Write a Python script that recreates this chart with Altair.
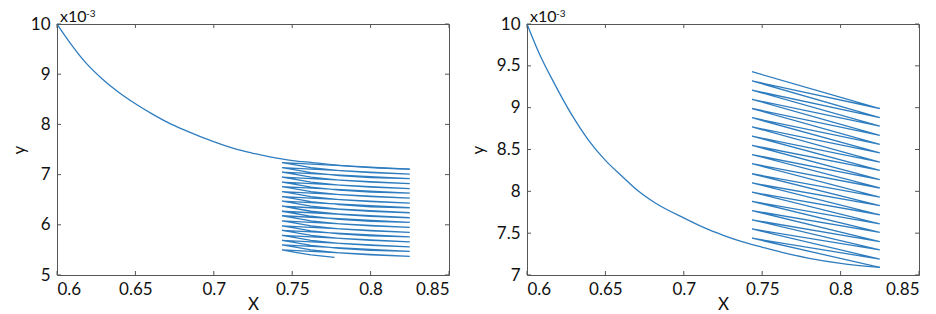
import altair as alt
import pandas as pd

FONT = "Lato"
BLUE = "#2f7dbf"
FRAME = "#555555"
W, H = 392, 251

x_ticks = [0.6, 0.65, 0.7, 0.75, 0.8, 0.85]

# ---------- left panel (y in units of 1e-3) ----------
left_curve_x = [0.6, 0.6096, 0.618, 0.6287, 0.6393, 0.65, 0.6606, 0.6712, 0.6818,
                0.7003, 0.7137, 0.7244, 0.735, 0.7503, 0.7626, 0.775, 0.80, 0.825]
left_curve_y = [10.0, 9.57, 9.24, 8.91, 8.64, 8.41, 8.21, 8.03, 7.88,
                7.65, 7.51, 7.43, 7.36, 7.28, 7.24, 7.20, 7.14, 7.11]
left_x_lo, left_x_hi = 0.7435, 0.825
left_strand_lo = [7.11, 7.01, 6.92, 6.82, 6.72, 6.63, 6.53, 6.43, 6.34, 6.24,
                  6.14, 6.05, 5.95, 5.85, 5.76, 5.66, 5.56, 5.47, 5.37]
left_strand_hi = [7.24, 7.14, 7.05, 6.95, 6.85, 6.76, 6.66, 6.56, 6.47, 6.37,
                  6.27, 6.18, 6.08, 5.98, 5.89, 5.79, 5.69, 5.60, 5.50]
kink_x = [0.752, 0.762, 0.78, 0.80]
kink_drop = [0.045, 0.10, 0.16, 0.20]
left_last_x = [0.752, 0.762, 0.777]
left_last_y = [5.45, 5.40, 5.35]
left_y_ticks = [5, 6, 7, 8, 9, 10]

# ---------- right panel ----------
right_curve_x = [0.6, 0.6075, 0.618, 0.6287, 0.6393, 0.65, 0.6606, 0.6712, 0.6818,
                 0.7003, 0.7137, 0.7244, 0.735, 0.7503, 0.7626, 0.78, 0.80, 0.825]
right_curve_y = [10.0, 9.66, 9.27, 8.91, 8.61, 8.37, 8.18, 8.00, 7.86,
                 7.68, 7.56, 7.48, 7.41, 7.33, 7.27, 7.20, 7.14, 7.09]
right_x_lo, right_x_hi = 0.7435, 0.825
right_strand_lo = [7.09, 7.19, 7.30, 7.40, 7.51, 7.61, 7.72, 7.83, 7.93, 8.04,
                   8.14, 8.25, 8.35, 8.46, 8.56, 8.67, 8.78, 8.88, 8.99]
right_strand_hi = [7.44, 7.55, 7.66, 7.77, 7.88, 7.99, 8.10, 8.21, 8.33, 8.44,
                   8.55, 8.66, 8.77, 8.88, 8.99, 9.10, 9.21, 9.32, 9.43]
right_y_ticks = [7, 7.5, 8, 8.5, 9, 9.5, 10]


def left_strands():
    # starts where the smooth curve ends
    xs, ys = [left_curve_x[-1]], [left_curve_y[-1]]
    n = len(left_strand_hi)
    for k in range(n):
        xs.append(left_x_lo)
        ys.append(left_strand_hi[k])
        if k < n - 1:
            for kx, kd in zip(kink_x, kink_drop):
                xs.append(kx)
                ys.append(left_strand_hi[k] - kd)
            xs.append(left_x_hi)
            ys.append(left_strand_lo[k + 1])
        else:
            xs += left_last_x
            ys += left_last_y
    return pd.DataFrame({"x": xs, "y": ys, "i": range(len(xs))})


def right_strands():
    xs, ys = [right_curve_x[-1]], [right_curve_y[-1]]
    n = len(right_strand_hi)
    for k in range(n):
        xs.append(right_x_lo)
        ys.append(right_strand_hi[k])
        if k < n - 1:
            xs.append(right_x_hi)
            ys.append(right_strand_lo[k + 1])
    return pd.DataFrame({"x": xs, "y": ys, "i": range(len(xs))})


def panel(curve_x, curve_y, strands, y_ticks, y_dom, ytitle_pad):
    xs = alt.Scale(domain=[0.6, 0.85], nice=False, zero=False)
    ys = alt.Scale(domain=y_dom, nice=False, zero=False)
    xax = alt.Axis(values=x_ticks, format="~r", title="X")
    yax = alt.Axis(values=y_ticks, format="~r", title="y", titlePadding=ytitle_pad)
    curve_df = pd.DataFrame({"x": curve_x, "y": curve_y, "i": range(len(curve_x))})
    curve = alt.Chart(curve_df).mark_line(
        color=BLUE, strokeWidth=1.3, interpolate="monotone"
    ).encode(
        x=alt.X("x:Q", scale=xs, axis=xax, title="X"),
        y=alt.Y("y:Q", scale=ys, axis=yax, title="y"),
        order="i:Q",
    )
    zig = alt.Chart(strands).mark_line(color=BLUE, strokeWidth=1.3).encode(
        x=alt.X("x:Q", scale=xs, axis=xax, title="X"),
        y=alt.Y("y:Q", scale=ys, axis=yax, title="y"),
        order="i:Q",
    )
    xt = pd.DataFrame({"v": x_ticks})
    yt = pd.DataFrame({"v": y_ticks})
    top = alt.Chart(xt).mark_rule(color=FRAME).encode(
        x=alt.X("v:Q", scale=xs, axis=xax, title="X"), y=alt.value(0), y2=alt.value(4))
    bot = alt.Chart(xt).mark_rule(color=FRAME).encode(
        x=alt.X("v:Q", scale=xs, axis=xax, title="X"), y=alt.value(H), y2=alt.value(H - 4))
    lft = alt.Chart(yt).mark_rule(color=FRAME).encode(
        y=alt.Y("v:Q", scale=ys, axis=yax, title="y"), x=alt.value(0), x2=alt.value(4))
    rgt = alt.Chart(yt).mark_rule(color=FRAME).encode(
        y=alt.Y("v:Q", scale=ys, axis=yax, title="y"), x=alt.value(W), x2=alt.value(W - 4))
    t1 = alt.Chart(pd.DataFrame({"t": ["x10"]})).mark_text(
        align="left", baseline="alphabetic", font=FONT, fontSize=16, color="#111"
    ).encode(text="t:N", x=alt.value(3), y=alt.value(-2))
    t2 = alt.Chart(pd.DataFrame({"t": ["-3"]})).mark_text(
        align="left", baseline="alphabetic", font=FONT, fontSize=10, color="#111"
    ).encode(text="t:N", x=alt.value(29), y=alt.value(-7))
    return alt.layer(curve, zig, top, bot, lft, rgt, t1, t2).properties(width=W, height=H)


chart = alt.hconcat(
    panel(left_curve_x, left_curve_y, left_strands(), left_y_ticks, [5, 10], 2),
    panel(right_curve_x, right_curve_y, right_strands(), right_y_ticks, [7, 10], 9),
    spacing=78, bounds="flush",
).properties(
    padding={"top": 0, "left": 1, "right": 0, "bottom": 0}
).configure_view(
    stroke=FRAME, strokeWidth=1
).configure_axis(
    domain=False, ticks=False, grid=False, tickSize=0,
    labelFont=FONT, labelFontSize=17, labelColor="#111",
    titleFont=FONT, titleFontSize=17, titleFontWeight="normal", titleColor="#111",
).configure_axisY(labelPadding=7).configure_axisX(titlePadding=-1, labelPadding=6)

chart.save("out.html", embed_options={"renderer": "svg", "actions": False})
